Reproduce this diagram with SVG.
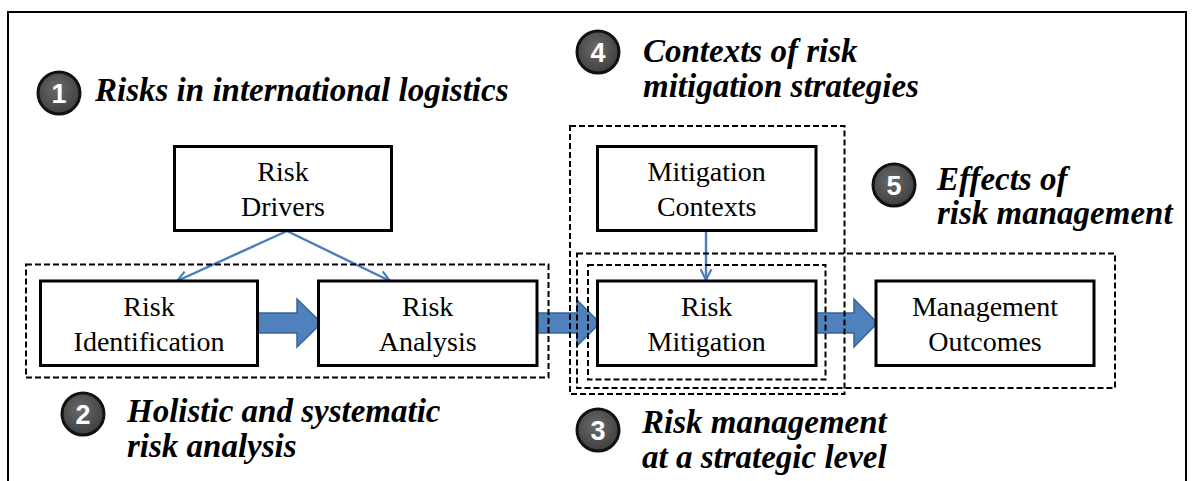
<svg xmlns="http://www.w3.org/2000/svg" width="1195" height="481" viewBox="0 0 1195 481">
<style>
.box{fill:#fff;stroke:#000;stroke-width:3}
.grp{fill:none;stroke:#000;stroke-width:2;stroke-dasharray:6,3}
.nt{font-size:28px;fill:#000;text-anchor:middle}
.lt{font-size:33px;font-weight:bold;font-style:italic;fill:#000}
.num{font-size:27px;font-weight:bold;fill:#fff;text-anchor:middle}
.badge{fill:url(#bg);stroke:#111;stroke-width:3}
.blk{fill:#4f81bd;stroke:#3a6395;stroke-width:1.5}
.thin{fill:none;stroke:#4a7ebb;stroke-width:2.4;marker-end:url(#ah)}
</style>
<defs>
<radialGradient id="bg" cx="0.45" cy="0.4" r="0.65">
<stop offset="0" stop-color="#6a6a6a"/>
<stop offset="1" stop-color="#3c3c3c"/>
</radialGradient>
<marker id="ah" viewBox="0 0 12 12" refX="11" refY="6" markerWidth="13" markerHeight="13" markerUnits="userSpaceOnUse" orient="auto">
<path d="M1,1 L11,6 L1,11" fill="none" stroke="#4a7ebb" stroke-width="2"/>
</marker>
</defs>
<rect width="1195" height="481" fill="#fff"/>
<path d="M8,481 V12 H1186 V481" fill="none" stroke="#000" stroke-width="2"/>

<g id="connectors">
<path class="blk" d="M257.5,313 H297 V299 L321.5,323 L297,347 V333 H257.5 Z"/>
<path class="blk" d="M537,313 H577 V300 L600,323 L577,346 V333 H537 Z"/>
<path class="blk" d="M816,313 H854 V299 L877.5,323 L854,347 V333 H816 Z"/>
<line class="thin" x1="287" y1="231" x2="177" y2="281"/>
<line class="thin" x1="287" y1="231" x2="390" y2="281"/>
<line class="thin" x1="706" y1="231" x2="706" y2="280"/>
</g>

<g id="group-2"><rect class="grp" x="26" y="264.5" width="522.5" height="113"/></g>
<g id="group-4"><rect class="grp" x="570" y="126" width="274.5" height="268"/></g>
<g id="group-5"><rect class="grp" x="577" y="253.5" width="538" height="134.5"/></g>
<g id="group-3"><rect class="grp" x="588" y="265" width="237.5" height="114.5"/></g>

<g id="nodes" font-family="'Liberation Serif', 'DejaVu Serif', serif">
<g id="risk-drivers">
<rect class="box" x="174.5" y="146.5" width="217" height="84"/>
<text class="nt" x="283" y="181">Risk</text>
<text class="nt" x="283" y="216">Drivers</text>
</g>
<g id="risk-identification">
<rect class="box" x="40.5" y="281" width="217" height="84.5"/>
<text class="nt" x="149" y="315.5">Risk</text>
<text class="nt" x="149" y="350.5">Identification</text>
</g>
<g id="risk-analysis">
<rect class="box" x="318.5" y="281" width="218.5" height="84.5"/>
<text class="nt" x="427.7" y="315.5">Risk</text>
<text class="nt" x="427.7" y="350.5">Analysis</text>
</g>
<g id="mitigation-contexts">
<rect class="box" x="597.5" y="146.5" width="218.5" height="84"/>
<text class="nt" x="706.7" y="181">Mitigation</text>
<text class="nt" x="706.7" y="216">Contexts</text>
</g>
<g id="risk-mitigation">
<rect class="box" x="597.5" y="281" width="218.5" height="84.5"/>
<text class="nt" x="706.7" y="315.5">Risk</text>
<text class="nt" x="706.7" y="350.5">Mitigation</text>
</g>
<g id="management-outcomes">
<rect class="box" x="876" y="281" width="218" height="84.5"/>
<text class="nt" x="985" y="315.5">Management</text>
<text class="nt" x="985" y="350.5">Outcomes</text>
</g>
</g>

<g id="labels">
<g id="label-1">
<circle class="badge" cx="59" cy="93" r="21"/>
<text class="num" x="59" y="102.5" font-family="'Liberation Sans', Arial, sans-serif">1</text>
<text class="lt" x="95" y="101" font-family="'Liberation Serif', 'DejaVu Serif', serif">Risks in international logistics</text>
</g>
<g id="label-2">
<circle class="badge" cx="83" cy="414" r="21"/>
<text class="num" x="83" y="423.5" font-family="'Liberation Sans', Arial, sans-serif">2</text>
<text class="lt" x="127" y="422" font-family="'Liberation Serif', 'DejaVu Serif', serif">Holistic and systematic</text>
<text class="lt" x="127" y="457" font-family="'Liberation Serif', 'DejaVu Serif', serif">risk analysis</text>
</g>
<g id="label-3">
<circle class="badge" cx="598" cy="430" r="21"/>
<text class="num" x="598" y="439.5" font-family="'Liberation Sans', Arial, sans-serif">3</text>
<text class="lt" x="642" y="433" font-family="'Liberation Serif', 'DejaVu Serif', serif">Risk management</text>
<text class="lt" x="642" y="468" font-family="'Liberation Serif', 'DejaVu Serif', serif">at a strategic level</text>
</g>
<g id="label-4">
<circle class="badge" cx="598" cy="52" r="21"/>
<text class="num" x="598" y="61.5" font-family="'Liberation Sans', Arial, sans-serif">4</text>
<text class="lt" x="643" y="62" font-family="'Liberation Serif', 'DejaVu Serif', serif">Contexts of risk</text>
<text class="lt" x="643" y="97" font-family="'Liberation Serif', 'DejaVu Serif', serif">mitigation strategies</text>
</g>
<g id="label-5">
<circle class="badge" cx="894" cy="185" r="21"/>
<text class="num" x="894" y="194.5" font-family="'Liberation Sans', Arial, sans-serif">5</text>
<text class="lt" x="937" y="190" font-family="'Liberation Serif', 'DejaVu Serif', serif">Effects of</text>
<text class="lt" x="937" y="224" font-family="'Liberation Serif', 'DejaVu Serif', serif">risk management</text>
</g>
</g>
</svg>
